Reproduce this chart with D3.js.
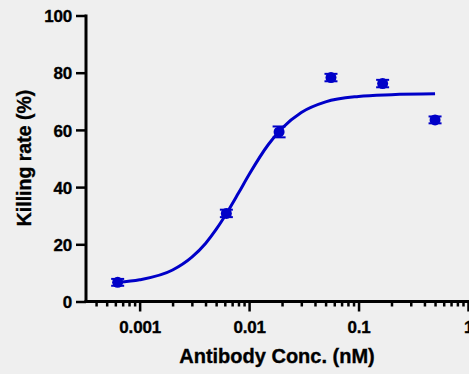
<!DOCTYPE html>
<html>
<head>
<meta charset="utf-8">
<script src="https://cdn.jsdelivr.net/npm/d3@7"></script>
<style>
  html, body { margin: 0; padding: 0; background: #efefef; }
  text { font-family: "Liberation Sans", Arial, sans-serif; font-weight: bold; fill: #000; stroke: #000; stroke-width: 0.35px; }
</style>
</head>
<body>
<div id="chart"></div>
<script>
// measured points
var conc = [0.00063, 0.0062, 0.0188, 0.056, 0.166, 0.5];
var killing = [6.7, 30.8, 59.3, 78.3, 76.2, 63.5];
var errors = [1.2, 1.3, 1.9, 1.3, 1.3, 1.2];

// fitted curve
var curveConc = [0.00063, 0.001, 0.002, 0.003, 0.004, 0.005, 0.006, 0.008, 0.01, 0.015, 0.02, 0.03, 0.05, 0.1, 0.2, 0.5];
var curveKilling = [6.7, 7.6, 11.0, 15.5, 20.3, 25.2, 29.8, 37.9, 44.4, 54.9, 60.6, 66.1, 69.8, 71.7, 72.3, 72.6];

var yTicks = [0, 20, 40, 60, 80, 100];
var xMajor = [0.001, 0.01, 0.1, 1];
var xMajorLabels = ["0.001", "0.01", "0.1", "1"];

var width = 469, height = 374;
var blue = "#0000c8";

var svg = d3.select("#chart").append("svg")
    .attr("width", width)
    .attr("height", height);

var x = d3.scaleLog()
    .domain([Math.pow(10, -3.49), 1])
    .range([86, 468]);

var y = d3.scaleLinear()
    .domain([0, 100])
    .range([301.5, 15.5]);

// minor ticks 2..9 within each decade
var xMinor = [];
[0.0001, 0.001, 0.01, 0.1].forEach(function(d) {
    for (var k = 2; k <= 9; k++) {
        var v = d * k;
        if (v >= x.domain()[0]) xMinor.push(v);
    }
});

// y axis
var yAxis = svg.append("g")
    .attr("transform", "translate(86,0)")
    .call(d3.axisLeft(y).tickValues(yTicks).tickSize(10).tickPadding(4).tickFormat(d3.format("d")));
yAxis.selectAll("line").attr("stroke", "#000").attr("stroke-width", 2.5);
yAxis.select(".domain").attr("stroke", "#000").attr("stroke-width", 3).attr("d", "M0,14.5V302.7");
yAxis.selectAll("text").style("font-size", "17px").attr("dy", "0.36em").attr("letter-spacing", "-0.2");

// x axis minor
var xMin = svg.append("g")
    .attr("transform", "translate(0,301.5)")
    .call(d3.axisBottom(x).tickValues(xMinor).tickSize(5).tickFormat(""));
xMin.select(".domain").remove();
xMin.selectAll("line").attr("stroke", "#000").attr("stroke-width", 2.5);

// x axis major
var xAxis = svg.append("g")
    .attr("transform", "translate(0,301.5)")
    .call(d3.axisBottom(x).tickValues(xMajor).tickSize(10).tickPadding(9)
        .tickFormat(function(d, i) { return xMajorLabels[i]; }));
xAxis.selectAll("line").attr("stroke", "#000").attr("stroke-width", 2.5);
xAxis.select(".domain").attr("stroke", "#000").attr("stroke-width", 3).attr("d", "M84.5,0H469");
xAxis.selectAll("text").style("font-size", "17px").attr("letter-spacing", "-0.2");

// axis titles
svg.append("text")
    .attr("x", 277)
    .attr("y", 363)
    .attr("text-anchor", "middle")
    .style("font-size", "20px")
    .text("Antibody Conc. (nM)");

svg.append("text")
    .attr("transform", "translate(31,158) rotate(-90)")
    .attr("text-anchor", "middle")
    .style("font-size", "19.5px")
    .text("Killing rate (%)");

// fitted curve
var line = d3.line()
    .x(function(d, i) { return x(curveConc[i]); })
    .y(function(d) { return y(d); })
    .curve(d3.curveMonotoneX);

svg.append("path")
    .datum(curveKilling)
    .attr("d", line)
    .attr("fill", "none")
    .attr("stroke", blue)
    .attr("stroke-width", 3);

// error bars
var eb = svg.append("g").selectAll("g")
    .data(killing)
    .enter().append("g")
    .attr("stroke", blue)
    .attr("stroke-width", 2);

eb.append("line")
    .attr("x1", function(d, i) { return x(conc[i]); })
    .attr("x2", function(d, i) { return x(conc[i]); })
    .attr("y1", function(d, i) { return y(d + errors[i]); })
    .attr("y2", function(d, i) { return y(d - errors[i]); });
eb.append("line")
    .attr("x1", function(d, i) { return x(conc[i]) - 6.5; })
    .attr("x2", function(d, i) { return x(conc[i]) + 6.5; })
    .attr("y1", function(d, i) { return y(d + errors[i]); })
    .attr("y2", function(d, i) { return y(d + errors[i]); });
eb.append("line")
    .attr("x1", function(d, i) { return x(conc[i]) - 6.5; })
    .attr("x2", function(d, i) { return x(conc[i]) + 6.5; })
    .attr("y1", function(d, i) { return y(d - errors[i]); })
    .attr("y2", function(d, i) { return y(d - errors[i]); });

// points
svg.append("g").selectAll("circle")
    .data(killing)
    .enter().append("circle")
    .attr("cx", function(d, i) { return x(conc[i]); })
    .attr("cy", function(d) { return y(d); })
    .attr("r", 5.5)
    .attr("fill", blue);
</script>
</body>
</html>
